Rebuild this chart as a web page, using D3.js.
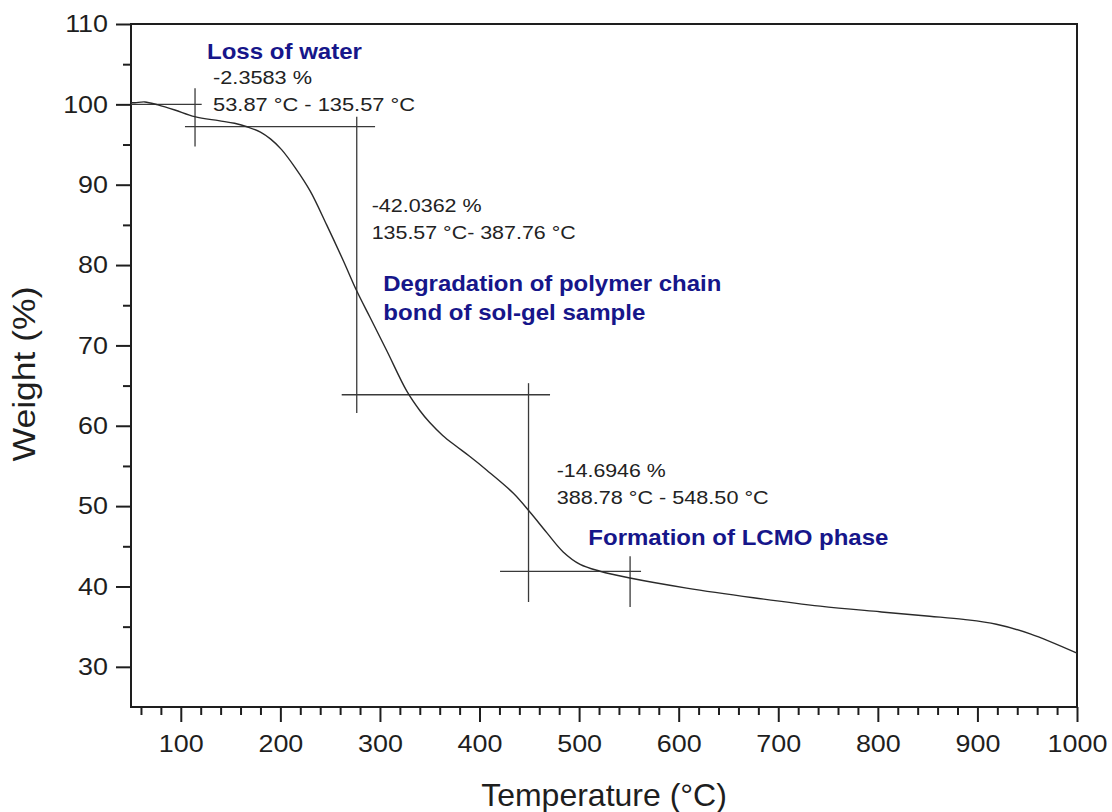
<!DOCTYPE html>
<html>
<head>
<meta charset="utf-8">
<script src="https://cdn.jsdelivr.net/npm/d3@7"></script>
<style>
  html, body { margin: 0; padding: 0; background: #fff; }
  svg { display: block; font-family: "Liberation Sans", Arial, sans-serif; }
</style>
</head>
<body>
<svg id="chart" width="1112" height="812"></svg>
<script>
// TGA curve: temperature (°C) and remaining weight (%)
const temperature = [50, 54, 64, 77, 94, 114, 138, 154, 168, 180, 190, 201, 215, 230, 246.5, 263, 277, 290, 307, 327, 340, 350, 363, 375, 390, 407, 434, 451, 467.5, 484, 501, 521, 551, 608, 675, 742, 802, 852, 886, 919, 953, 1000];
const weight      = [100.2, 100.2, 100.3, 99.93, 99.3, 98.47, 97.97, 97.65, 97.15, 96.55, 95.7, 94.4, 92.1, 89.2, 85.0, 80.6, 76.7, 73.5, 69.3, 64.3, 61.9, 60.4, 58.8, 57.6, 56.2, 54.5, 51.6, 49.2, 46.7, 44.3, 42.75, 41.9, 41.05, 39.8, 38.6, 37.55, 36.85, 36.3, 35.9, 35.3, 34.1, 31.7];

// Step-analysis marker segments: [t1, w1, t2, w2]
const stepMarkers = [
  [50, 100, 121, 100],
  [114.3, 102, 114.3, 94.74],
  [104.2, 97.23, 295.1, 97.23],
  [276.7, 98.47, 276.7, 61.58],
  [261.6, 63.86, 470.8, 63.86],
  [449.2, 65.3, 449.2, 38.07],
  [420.6, 41.88, 562.2, 41.88],
  [551.2, 43.75, 551.2, 37.45]
];

// Axis ticks
const xMajorTicks = [100, 200, 300, 400, 500, 600, 700, 800, 900, 1000];
const xMinorTicks = d3.range(60, 1000, 20).filter(v => v % 100 !== 0);
const yMajorTicks = [30, 40, 50, 60, 70, 80, 90, 100, 110];
const yMinorTicks = [35, 45, 55, 65, 75, 85, 95, 105];

// Annotation texts
const stepLabels = [
  { text: "-2.3583 %", t: 132.4, w: 102.54, len: 99 },
  { text: "53.87 \u00B0C - 135.57 \u00B0C", t: 132.4, w: 99.18, len: 202 },
  { text: "-42.0362 %", t: 291.7, w: 86.65, len: 110 },
  { text: "135.57 \u00B0C- 387.76 \u00B0C", t: 291.7, w: 83.22, len: 204 },
  { text: "-14.6946 %", t: 477.5, w: 53.62, len: 109 },
  { text: "388.78 \u00B0C - 548.50 \u00B0C", t: 477.5, w: 50.3, len: 212 }
];
const stageLabels = [
  { text: "Loss of water", t: 126.3, w: 105.6, len: 155 },
  { text: "Degradation of polymer chain", t: 303.4, w: 76.8, len: 338 },
  { text: "bond of sol-gel sample", t: 303.4, w: 73.2, len: 262 },
  { text: "Formation of LCMO phase", t: 509.3, w: 45.2, len: 300 }
];

const svg = d3.select("#chart");
const plot = { left: 131, right: 1077, top: 24, bottom: 707 };

const x = d3.scaleLinear().domain([50, 1000]).range([plot.left, plot.right]);
const y = d3.scaleLinear().domain([25, 110]).range([plot.bottom, plot.top]);

const axisColor = "#1e1e1e";

// Frame
svg.append("rect")
  .attr("x", plot.left).attr("y", plot.top)
  .attr("width", plot.right - plot.left).attr("height", plot.bottom - plot.top)
  .attr("fill", "none").attr("stroke", axisColor).attr("stroke-width", 2);

// X axis: major ticks with labels, then minor ticks
const xAxis = svg.append("g").attr("transform", `translate(0,${plot.bottom})`)
  .call(d3.axisBottom(x).tickValues(xMajorTicks).tickSize(15).tickPadding(13).tickFormat(d3.format("d")));
const xMinor = svg.append("g").attr("transform", `translate(0,${plot.bottom})`)
  .call(d3.axisBottom(x).tickValues(xMinorTicks).tickSize(8).tickFormat(""));

// Y axis
const yAxis = svg.append("g").attr("transform", `translate(${plot.left},0)`)
  .call(d3.axisLeft(y).tickValues(yMajorTicks).tickSize(15).tickPadding(8).tickFormat(d3.format("d")));
const yMinor = svg.append("g").attr("transform", `translate(${plot.left},0)`)
  .call(d3.axisLeft(y).tickValues(yMinorTicks).tickSize(8).tickFormat(""));

[xAxis, xMinor, yAxis, yMinor].forEach(g => {
  g.select(".domain").remove();
  g.selectAll(".tick line").attr("stroke", axisColor).attr("stroke-width", 2);
  g.selectAll(".tick text")
    .attr("fill", "#1e1e1e")
    .style("font-size", "24px")
    .style("font-family", "'Liberation Sans', Arial, sans-serif");
});

// Slightly wider tick numerals
xAxis.selectAll(".tick text")
  .attr("dy", "0.71em")
  .attr("y", 0)
  .attr("transform", "translate(0,28) scale(1.12,1)");
yAxis.selectAll(".tick text")
  .attr("x", 0)
  .attr("transform", "translate(-23,0) scale(1.12,1)");

// Axis titles
svg.append("text")
  .attr("x", (plot.left + plot.right) / 2).attr("y", 806)
  .attr("text-anchor", "middle")
  .attr("fill", "#1e1e1e")
  .style("font-size", "32px")
  .text("Temperature (\u00B0C)");

svg.append("text")
  .attr("transform", "translate(35,374) rotate(-90)")
  .attr("text-anchor", "middle")
  .attr("fill", "#1e1e1e")
  .style("font-size", "32px")
  .attr("textLength", 175).attr("lengthAdjust", "spacingAndGlyphs")
  .text("Weight (%)");

// Step-analysis marker lines
svg.append("g").selectAll("line").data(stepMarkers).join("line")
  .attr("x1", d => x(d[0])).attr("y1", d => y(d[1]))
  .attr("x2", d => x(d[2])).attr("y2", d => y(d[3]))
  .attr("stroke", "#3a3a3a").attr("stroke-width", 1.3);

// TGA curve
const series = temperature.map((t, i) => ({ t, w: weight[i] }));
svg.append("path")
  .datum(series)
  .attr("fill", "none")
  .attr("stroke", "#2a2a2a")
  .attr("stroke-width", 1.4)
  .attr("d", d3.line().x(d => x(d.t)).y(d => y(d.w)).curve(d3.curveCatmullRom.alpha(0.5)));

// Step annotations
svg.append("g").selectAll("text").data(stepLabels).join("text")
  .attr("x", d => x(d.t)).attr("y", d => y(d.w))
  .attr("fill", "#222")
  .style("font-size", "18.5px")
  .attr("textLength", d => d.len).attr("lengthAdjust", "spacingAndGlyphs")
  .text(d => d.text);

// Stage labels
svg.append("g").selectAll("text").data(stageLabels).join("text")
  .attr("x", d => x(d.t)).attr("y", d => y(d.w))
  .attr("fill", "#16168a")
  .style("font-size", "22px")
  .style("font-weight", "bold")
  .attr("textLength", d => d.len).attr("lengthAdjust", "spacingAndGlyphs")
  .text(d => d.text);
</script>
</body>
</html>
